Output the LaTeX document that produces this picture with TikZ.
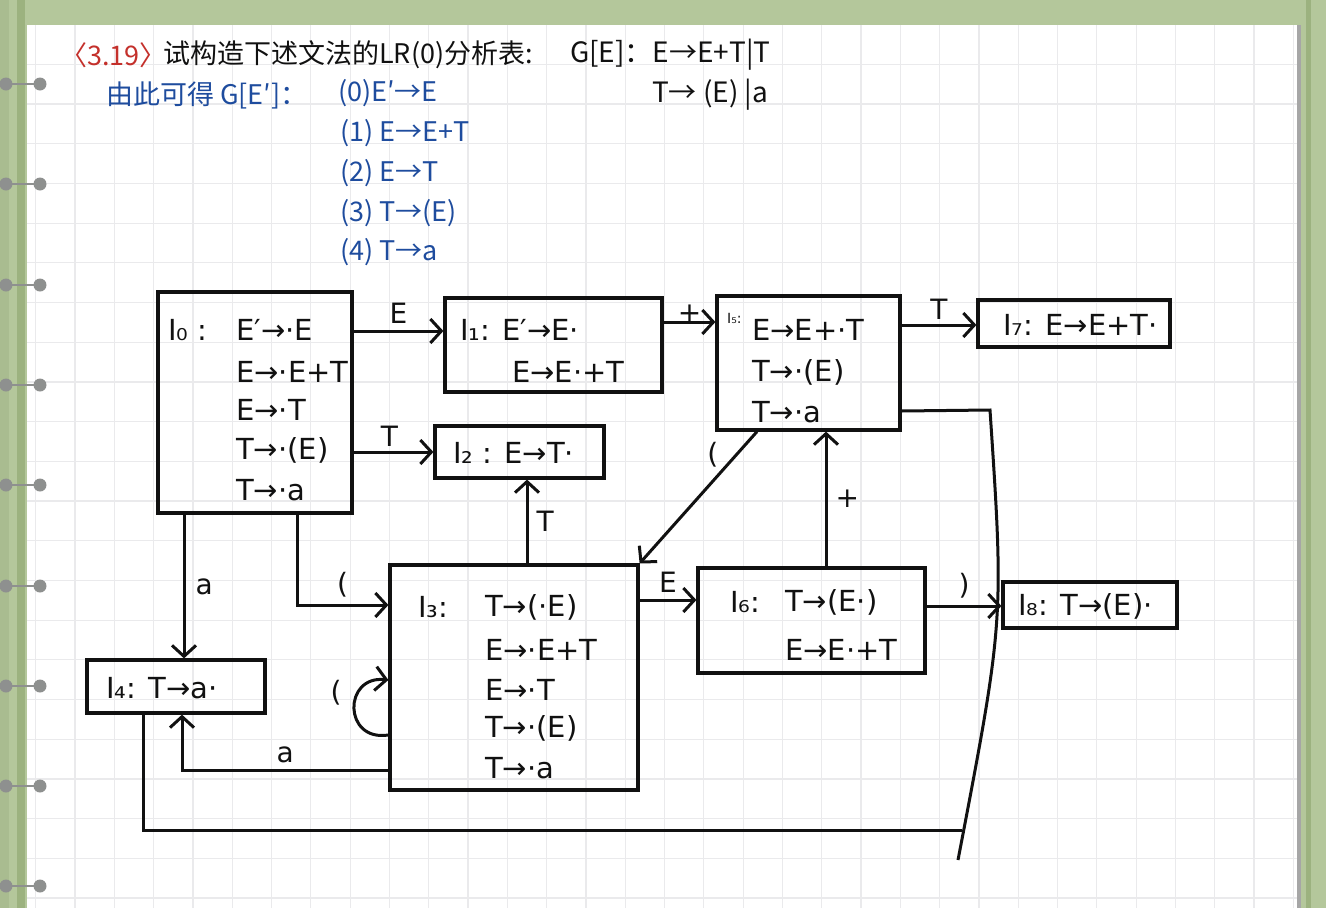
\documentclass[tikz,border=0pt]{standalone}
\usepackage{fontspec}
\setmainfont{DejaVu Sans}
\newfontfamily\cjk{Noto Sans CJK SC}
\usetikzlibrary{arrows.meta}
\definecolor{ink}{HTML}{111111}
\definecolor{inkblue}{HTML}{1E4C9E}
\definecolor{inkred}{HTML}{C4302B}
\definecolor{bggreen}{HTML}{B4C79B}
\definecolor{stripdark}{HTML}{9CB27F}
\definecolor{gridc}{HTML}{EAEAEC}
\definecolor{ringc}{HTML}{8E908F}
\begin{document}
\begin{tikzpicture}[x=1pt,y=-1pt,
  box/.style={draw=ink, line width=3.2pt, inner sep=0pt},
  txt/.style={anchor=west, inner sep=0pt, text=ink, font=\fontsize{29}{31}\selectfont},
  small/.style={anchor=west, inner sep=0pt, text=ink, font=\fontsize{14}{16}\selectfont},
  hdr/.style={anchor=west, inner sep=0pt, font=\cjk\fontsize{27}{30}\selectfont},
  blu/.style={anchor=west, inner sep=0pt, text=inkblue, font=\cjk\fontsize{27}{30}\selectfont},
  arr/.style={draw=ink, line width=3pt, -{Straight Barb[length=11pt,width=24pt]}},
  ln/.style={draw=ink, line width=3pt},
  lbl/.style={text=ink, font=\fontsize{28}{30}\selectfont, inner sep=0pt}]
\useasboundingbox (0,0) rectangle (1326,908);
% notebook background
\fill[bggreen] (0,0) rectangle (1326,908);
\fill[stripdark] (17,0) rectangle (25,908);
\fill[stripdark!80!black!20!bggreen] (0,0) rectangle (9,908);
\fill[stripdark] (1306,0) rectangle (1311,908);
\fill[white] (27,25) rectangle (1298,908);
\fill[black!35] (1297,25) rectangle (1301,908);
\foreach \i in {0,...,32} \draw[gridc, line width=1.2pt] ({35.7+39.3*\i},25) -- ({35.7+39.3*\i},908);
\foreach \j in {0,...,21} \draw[gridc, line width=1.2pt] (27,{64.3+39.7*\j}) -- (1297,{64.3+39.7*\j});
\foreach \yy in {84,184,285,385,485,586,686,786,886} {
  \draw[ringc, line width=2.5pt] (6,\yy) -- (40,\yy);
  \fill[ringc] (6,\yy) circle (6.5pt);
  \fill[ringc] (40,\yy) circle (6.5pt);
}
% header
\node[hdr, text=inkred] (num) at (60,55) {〈3.19〉};
\node[hdr, text=ink] (title) at (163,55) {试构造下述文法的LR(0)分析表:};
\node[hdr, text=ink, font=\cjk\fontsize{28}{30}\selectfont] (gram1) at (570,55) {G[E]：E→E+T|T};
\node[hdr, text=ink, font=\cjk\fontsize{28}{30}\selectfont] (gram2) at (652,95) {T→ (E) |a};
\node[blu] (derive) at (106,95) {由此可得 G[E′]：};
\node[blu] (p0) at (338,93) {(0)E′→E};
\node[blu] (p1) at (340,133) {(1) E→E+T};
\node[blu] (p2) at (340,173) {(2) E→T};
\node[blu] (p3) at (340,213) {(3) T→(E)};
\node[blu] (p4) at (340,252) {(4) T→a};
% state boxes
\node[box, minimum width=194pt, minimum height=221pt] (I0) at (255,402.5) {};
\node[box, minimum width=217pt, minimum height=94pt] (I1) at (553.5,345) {};
\node[box, minimum width=183pt, minimum height=134pt] (I5) at (808.5,363) {};
\node[box, minimum width=192pt, minimum height=47pt] (I7) at (1074,323.5) {};
\node[box, minimum width=169pt, minimum height=52pt] (I2) at (519.5,452) {};
\node[box, minimum width=248pt, minimum height=225pt] (I3) at (514,677.5) {};
\node[box, minimum width=227pt, minimum height=105pt] (I6) at (811.5,620.5) {};
\node[box, minimum width=174pt, minimum height=46pt] (I8) at (1090,605) {};
\node[box, minimum width=178pt, minimum height=53pt] (I4) at (176,686.5) {};
% box texts
\node[txt] (t0) at (168,330) {I₀ :};
\node[txt] (t0a) at (236,330) {E′→·E};
\node[txt] (t0b) at (236,372) {E→·E+T};
\node[txt] (t0c) at (236,410) {E→·T};
\node[txt] (t0d) at (236,450) {T→·(E)};
\node[txt] (t0e) at (236,490) {T→·a};
\node[txt] (t1a) at (460,330) {I₁: E′→E·};
\node[txt] (t1b) at (512,372) {E→E·+T};
\node[small] (t5) at (727,318) {I₅:};
\node[txt] (t5a) at (752,330) {E→E+·T};
\node[txt] (t5b) at (752,372) {T→·(E)};
\node[txt] (t5c) at (752,412) {T→·a};
\node[txt] (t7) at (1003,325) {I₇: E→E+T·};
\node[txt] (t2) at (453,453) {I₂ : E→T·};
\node[txt] (t3) at (418,607) {I₃:};
\node[txt] (t3a) at (485,607) {T→(·E)};
\node[txt] (t3b) at (485,650) {E→·E+T};
\node[txt] (t3c) at (485,690) {E→·T};
\node[txt] (t3d) at (485,728) {T→·(E)};
\node[txt] (t3e) at (485,768) {T→·a};
\node[txt] (t6) at (730,602) {I₆:};
\node[txt] (t6a) at (785,602) {T→(E·)};
\node[txt] (t6b) at (785,650) {E→E·+T};
\node[txt] (t8) at (1018,606) {I₈: T→(E)·};
\node[txt] (t4) at (106,688) {I₄: T→a·};
% transitions
\draw[arr] (I0.east |- 0,331) -- node[lbl, above=6pt]{E} (I1.west |- 0,331);
\draw[arr] (I0.east |- 0,452) -- node[lbl, above=4pt, pos=0.45]{T} (I2.west |- 0,452);
\draw[arr] (I1.east |- 0,322) -- node[lbl, above=-2pt]{+} (I5.west |- 0,322);
\draw[arr] (I5.east |- 0,325) -- node[lbl, above=4pt]{T} (I7.west |- 0,325);
\draw[arr] (I0.south -| 184,0) -- node[lbl, right=10pt]{a} (I4.north -| 184,0);
\draw[arr] (I0.south -| 297,0) |- node[lbl, pos=0.75, above=6pt]{(} (I3.west |- 0,605);
\draw[arr] (I3.north -| 527,0) -- node[lbl, right=8pt]{T} (I2.south -| 527,0);
\draw[arr] (I5.south -| 757,0) -- node[lbl, pos=0.3, above left=2pt]{(} (I3.north east);
\draw[arr] (I3.east |- 0,600) -- node[lbl, above=6pt]{E} (I6.west |- 0,600);
\draw[arr] (I6.north -| 826,0) -- node[lbl, right=8pt]{+} (I5.south -| 826,0);
\draw[arr] (I6.east |- 0,606) -- node[lbl, above=6pt]{)} (I8.west |- 0,606);
\draw[arr] (I3.west |- 0,735) .. controls (343,742) and (343,675) .. (I3.west |- 0,680);
\node[lbl] (loopl) at (336,693) {(};
\draw[arr] (I3.west |- 0,770) -| node[lbl, pos=0.25, above=6pt]{a} (I4.south -| 182,0);
\coordinate (endA) at (958,860);
\coordinate (endB) at (962,830);
\draw[ln] (I5.east |- 0,411) -- (990,410) .. controls (1004,620) .. (endA);
\draw[ln] (I4.south -| 143,0) |- (endB);
\end{tikzpicture}
\end{document}
